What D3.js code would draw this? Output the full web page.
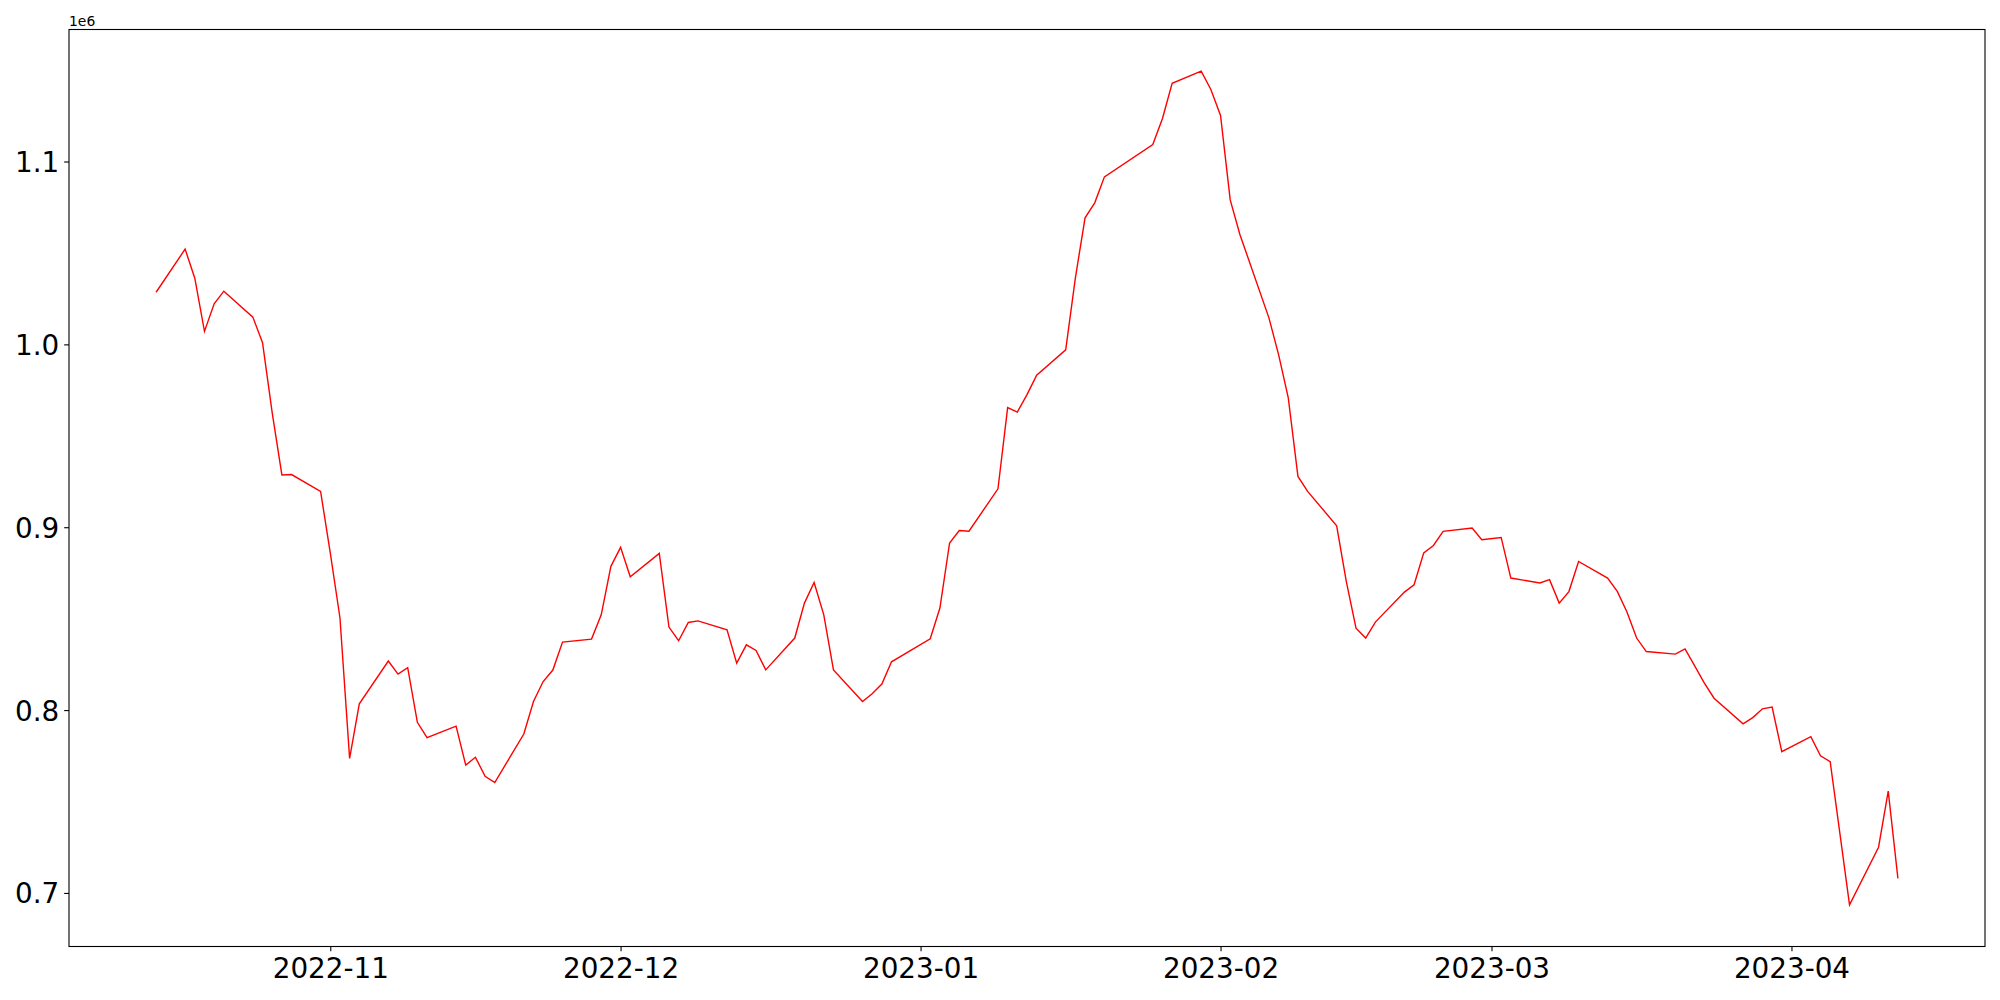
<!DOCTYPE html>
<html>
<head>
<meta charset="utf-8">
<script src="https://cdn.jsdelivr.net/npm/d3@7"></script>
<style>
  html, body { margin: 0; padding: 0; background: #fff; }
  #graph { width: 2000px; height: 1000px; }
  text { font-family: "DejaVu Sans", sans-serif; fill: #000; }
</style>
</head>
<body>
<div id="graph"></div>
<script>
// trading days (KRX calendar) and closing values
const dates = [
    "2022-10-14", "2022-10-17", "2022-10-18", "2022-10-19", "2022-10-20", "2022-10-21",
    "2022-10-24", "2022-10-25", "2022-10-26", "2022-10-27", "2022-10-28", "2022-10-31",
    "2022-11-01", "2022-11-02", "2022-11-03", "2022-11-04", "2022-11-07", "2022-11-08",
    "2022-11-09", "2022-11-10", "2022-11-11", "2022-11-14", "2022-11-15", "2022-11-16",
    "2022-11-17", "2022-11-18", "2022-11-21", "2022-11-22", "2022-11-23", "2022-11-24",
    "2022-11-25", "2022-11-28", "2022-11-29", "2022-11-30",
    "2022-12-01", "2022-12-02", "2022-12-05", "2022-12-06", "2022-12-07", "2022-12-08",
    "2022-12-09", "2022-12-12", "2022-12-13", "2022-12-14", "2022-12-15", "2022-12-16",
    "2022-12-19", "2022-12-20", "2022-12-21", "2022-12-22", "2022-12-23", "2022-12-26",
    "2022-12-27", "2022-12-28", "2022-12-29",
    "2023-01-02", "2023-01-03", "2023-01-04", "2023-01-05", "2023-01-06", "2023-01-09",
    "2023-01-10", "2023-01-11", "2023-01-12", "2023-01-13", "2023-01-16", "2023-01-17",
    "2023-01-18", "2023-01-19", "2023-01-20", "2023-01-25", "2023-01-26", "2023-01-27",
    "2023-01-30", "2023-01-31",
    "2023-02-01", "2023-02-02", "2023-02-03", "2023-02-06", "2023-02-07", "2023-02-08",
    "2023-02-09", "2023-02-10", "2023-02-13", "2023-02-14", "2023-02-15", "2023-02-16",
    "2023-02-17", "2023-02-20", "2023-02-21", "2023-02-22", "2023-02-23", "2023-02-24",
    "2023-02-27", "2023-02-28",
    "2023-03-02", "2023-03-03", "2023-03-06", "2023-03-07", "2023-03-08", "2023-03-09",
    "2023-03-10", "2023-03-13", "2023-03-14", "2023-03-15", "2023-03-16", "2023-03-17",
    "2023-03-20", "2023-03-21", "2023-03-22", "2023-03-23", "2023-03-24", "2023-03-27",
    "2023-03-28", "2023-03-29", "2023-03-30", "2023-03-31",
    "2023-04-03", "2023-04-04", "2023-04-05", "2023-04-06", "2023-04-07", "2023-04-10",
    "2023-04-11", "2023-04-12"
];
const values = [
    1028500, 1052100, 1036200, 1007100, 1022200, 1029100,
    1014900, 1000900, 962500, 928600, 928800, 919600,
    886000, 850500, 773600, 803400, 826800, 819700,
    823200, 793300, 784900, 791200, 769900, 774200,
    763800, 760400, 786900, 804700, 815600, 821900,
    837200, 838800, 852100, 878600,
    889000, 872900, 885700, 845400, 837900, 847900,
    848800, 843900, 825700, 835700, 832600, 822000,
    839400, 858500, 869800, 852100, 822000, 804700,
    808900, 814200, 826400,
    839000, 855800, 891400, 898200, 897800, 921000,
    965400, 963000, 972500, 983100, 997000, 1036400,
    1069200, 1077400, 1091600, 1109300, 1123500, 1142800,
    1149400, 1139400,
    1125200, 1079000, 1060100, 1014500, 994400, 970700,
    927800, 919600, 900800, 870300, 844800, 839400,
    848100, 864500, 868500, 886000, 890000, 897700,
    899600, 893200,
    894400, 872200, 869500, 871300, 858500, 864800,
    881300, 872200, 864900, 853600, 839400, 832000,
    830600, 833500, 824200, 814700, 806500, 792500,
    795900, 800700, 801600, 777300,
    785500, 775000, 771800, 732700, 693500, 725000,
    755700, 708000
];
const yTicks = [700000, 800000, 900000, 1000000, 1100000];
const xTicks = ["2022-11-01", "2022-12-01", "2023-01-01", "2023-02-01", "2023-03-01", "2023-04-01"];

const W = 2000, H = 1000;
const plot = { left: 69, top: 29.5, right: 1985, bottom: 946.5 };
const tickLen = 4.86;
const bigFont = 27.8;

const parse = d3.utcParse("%Y-%m-%d");

function container() {
    return document.querySelector("#graph");
}

// matplotlib style 5% margins around the data
function padded(extent) {
    const span = extent[1] - extent[0];
    return [extent[0] - span * 0.05, extent[1] + span * 0.05];
}

function main() {
    const rows = dates.map((d, i) => ({ date: parse(d), value: values[i] }));

    const tx = padded(d3.extent(rows, r => +r.date));
    const x = d3.scaleUtc()
        .domain([new Date(tx[0]), new Date(tx[1])])
        .range([plot.left, plot.right]);
    const y = d3.scaleLinear()
        .domain(padded(d3.extent(rows, r => r.value)))
        .range([plot.bottom, plot.top]);

    const svg = d3.select(container()).append("svg")
        .attr("width", W)
        .attr("height", H)
        .attr("viewBox", `0 0 ${W} ${H}`);

    svg.append("rect")
        .attr("width", W).attr("height", H)
        .attr("fill", "#fff");

    const line = d3.line()
        .x(r => x(r.date))
        .y(r => y(r.value));

    svg.append("path")
        .datum(rows)
        .attr("d", line)
        .attr("fill", "none")
        .attr("stroke", "#ff0000")
        .attr("stroke-width", 1.4)
        .attr("stroke-linejoin", "miter");

    // x axis
    const xAxis = svg.append("g")
        .attr("transform", `translate(0,${plot.bottom})`)
        .call(d3.axisBottom(x)
            .tickValues(xTicks.map(parse))
            .tickFormat(d3.utcFormat("%Y-%m"))
            .tickSize(tickLen)
            .tickPadding(tickLen)
            .tickSizeOuter(0));
    xAxis.select(".domain").remove();
    xAxis.selectAll(".tick line").attr("stroke", "#000").attr("stroke-width", 1.1);
    xAxis.selectAll(".tick text")
        .attr("font-family", "DejaVu Sans")
        .attr("font-size", bigFont)
        .attr("y", tickLen * 2)
        .attr("dy", "0.8em");

    // y axis
    const yAxis = svg.append("g")
        .attr("transform", `translate(${plot.left},0)`)
        .call(d3.axisLeft(y)
            .tickValues(yTicks)
            .tickFormat(v => (v / 1e6).toFixed(1))
            .tickSize(tickLen)
            .tickPadding(tickLen)
            .tickSizeOuter(0));
    yAxis.select(".domain").remove();
    yAxis.selectAll(".tick line").attr("stroke", "#000").attr("stroke-width", 1.1);
    yAxis.selectAll(".tick text")
        .attr("font-family", "DejaVu Sans")
        .attr("font-size", bigFont)
        .attr("dy", "0.36em");

    // offset label
    svg.append("text")
        .attr("x", plot.left)
        .attr("y", 25.5)
        .attr("font-size", 13.9)
        .text("1e6");

    // frame
    svg.append("rect")
        .attr("x", plot.left)
        .attr("y", plot.top)
        .attr("width", plot.right - plot.left)
        .attr("height", plot.bottom - plot.top)
        .attr("fill", "none")
        .attr("stroke", "#000")
        .attr("stroke-width", 1.1);
}

main();
</script>
</body>
</html>
